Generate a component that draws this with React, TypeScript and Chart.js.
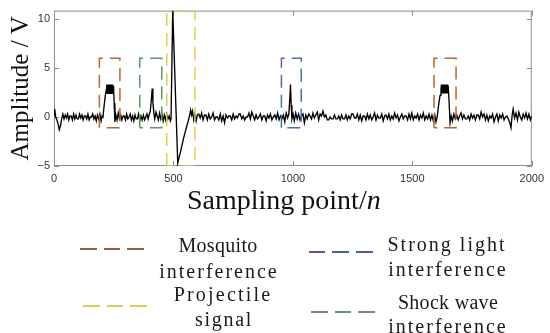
import React, { useEffect, useRef } from 'react';
import { Chart, registerables } from 'chart.js';

Chart.register(...registerables);

// ---------- data ----------
const xTicks = [0, 500, 1000, 1500, 2000];
const yTicks = [-5, 0, 5, 10];

// [sampling point, amplitude (V)]
const signalPoints: [number, number][] = [
  [0, 0.2], [3, 0.8], [7, 0.0], [12, -0.3], [17, -0.7], [22, -1.3], [27, -0.9], [32, -0.2], [37, 0.3], [42, -0.2],
  [47, 0.2], [52, -0.1], [57, 0.3], [62, -0.3], [67, 0.1], [72, 0.1], [77, -0.3], [82, 0.3], [87, -0.2], [92, 0.2],
  [97, -0.2], [102, -0.2], [107, 0.3], [112, -0.1], [117, 0.2], [122, -0.3], [127, 0.1], [132, 0.1], [137, -0.2], [142, 0.3],
  [147, -0.3], [152, 0.0], [157, 0.0], [162, 0.3], [167, -0.2], [172, 0.1], [177, -0.4], [182, 0.2], [187, -0.2], [192, 0.3],
  [197, -0.4], [201, 0.1],
  [205, 0.0], [210, 1.2], [215, 2.2], [219, 2.8], [221, 3.3], [223, 2.4], [225, 3.3], [227, 2.4], [229, 3.3], [231, 2.4],
  [233, 3.3], [235, 2.4], [237, 3.3], [239, 2.4], [241, 3.3], [243, 2.4], [245, 3.3], [247, 2.4], [249, 3.2], [252, 1.4],
  [255, -0.5], [259, 0.2], [264, -0.3], [269, 0.4], [274, -0.2], [279, 0.2], [284, -0.3], [289, 0.1], [294, 0.1], [299, -0.3],
  [304, 0.3], [309, -0.2], [314, 0.0], [319, 0.3], [324, -0.3], [329, 0.1], [334, -0.4], [339, 0.2], [344, -0.2], [349, -0.2],
  [354, 0.3], [359, -0.4], [364, 0.1], [369, -0.3], [374, 0.2], [379, -0.3], [384, 0.0], [389, 0.3], [394, -0.2], [399, 0.3],
  [403, 0.6], [407, 1.6], [411, 2.9], [414, 1.5], [418, 0.4], [422, -0.2], [427, 0.5], [432, 0.1], [437, -0.3], [442, 0.4],
  [447, -0.2], [452, 0.3], [457, -0.4], [462, 0.2], [467, -0.3], [472, 0.3], [477, -0.2], [482, 0.1], [487, -0.4], [490, -0.2],
  [497, 10.85], [518, -4.7], [530, -3.5], [542, -2.2], [554, -1.1], [562, -0.4], [568, 0.2], [572, 0.7], [576, 0.2], [580, 0.6],
  [585, -0.3], [590, 0.3], [595, -0.4], [600, 0.2], [606, 0.3], [612, -0.1], [618, 0.4], [624, -0.3], [630, 0.2], [636, 0.2],
  [642, -0.3], [648, 0.3], [654, -0.2], [660, 0.0], [666, 0.4], [672, -0.3], [678, 0.0], [684, 0.0], [690, -0.3], [696, 0.3],
  [702, -0.4], [708, 0.1], [714, -0.6], [720, 0.2], [726, -0.1], [732, 0.1], [738, 0.1], [744, -0.3], [750, 0.3], [756, -0.2],
  [762, 0.1], [768, -0.1], [774, 0.3], [780, 0.3], [786, -0.2], [792, 0.1], [798, -0.3], [804, 0.0], [810, 0.0], [816, 0.4],
  [822, -0.2], [828, 0.5], [834, 0.1], [840, -0.3], [846, 0.2], [852, -0.2], [858, 0.0], [864, 0.3], [870, -0.3], [876, 0.1],
  [882, 0.1], [888, -0.4], [894, 0.2], [900, -0.1], [906, 0.3], [912, -0.3], [918, 0.0], [924, 0.2], [930, -0.2], [936, 0.4],
  [942, -0.3], [948, 0.1], [954, -0.2], [960, 0.2], [966, -0.5], [972, 0.4], [978, -0.1], [983, 0.3],
  [987, 1.8], [990, 3.3], [993, 1.2], [996, -0.2], [1001, 0.3], [1006, -0.4], [1012, 0.4], [1018, -0.2], [1024, 0.3], [1030, -0.3],
  [1036, 0.1], [1042, 0.3], [1048, -0.6], [1054, 0.2], [1060, -0.2], [1066, 0.3], [1072, 0.1], [1078, -0.2], [1084, 0.4], [1090, -0.1],
  [1096, 0.2], [1102, 0.5], [1108, -0.3], [1114, 0.3], [1120, 0.1], [1126, 0.6], [1132, 0.0], [1138, 0.2], [1144, -0.3], [1150, -0.3],
  [1156, 0.0], [1162, -0.2], [1168, -0.2], [1174, 0.2], [1180, -0.2], [1186, -0.2], [1192, 0.1], [1198, -0.3], [1204, 0.2], [1210, -0.2],
  [1216, -0.2], [1222, 0.2], [1228, -0.3], [1234, 0.1], [1240, -0.2], [1246, 0.3], [1252, 0.3], [1258, -0.1], [1264, -0.1], [1270, 0.3],
  [1276, -0.3], [1282, 0.2], [1288, -0.4], [1294, 0.1], [1300, 0.1], [1306, -0.3], [1312, 0.3], [1318, -0.2], [1324, 0.2], [1330, -0.3],
  [1336, 0.0], [1342, 0.4], [1348, -0.3], [1354, 0.2], [1360, -0.1], [1366, -0.1], [1372, 0.3], [1378, -0.4], [1384, 0.1], [1390, 0.2],
  [1396, -0.2], [1402, 0.3], [1408, -0.3], [1414, 0.1], [1420, -0.2], [1426, 0.4], [1432, -0.1], [1438, 0.2], [1444, -0.4], [1450, 0.0],
  [1456, 0.3], [1462, -0.2], [1468, 0.1], [1474, 0.1], [1480, -0.3], [1486, 0.3], [1492, -0.2], [1498, 0.4], [1504, -0.3], [1510, 0.1],
  [1516, -0.1], [1522, 0.3], [1528, -0.3], [1534, 0.2], [1540, -0.1], [1546, 0.4], [1552, -0.3], [1558, 0.1], [1564, -0.2], [1570, 0.3],
  [1576, -0.3], [1582, 0.2], [1588, -0.4], [1594, 0.2], [1599, -0.5],
  [1604, 0.0], [1610, 1.2], [1616, 2.2], [1620, 2.8], [1622, 3.3], [1624, 2.4], [1626, 3.3], [1628, 2.4], [1630, 3.3], [1632, 2.4],
  [1634, 3.3], [1636, 2.4], [1638, 3.3], [1640, 2.4], [1642, 3.3], [1644, 2.4], [1646, 3.3], [1648, 2.4], [1650, 3.2], [1654, 1.5],
  [1658, -0.6], [1663, 0.1], [1668, -0.4], [1674, 0.3], [1680, -0.2], [1686, 0.2], [1692, -0.3], [1698, 0.1], [1704, 0.4], [1710, -0.2],
  [1716, 0.2], [1722, -0.2], [1728, -0.2], [1734, 0.1], [1740, -0.3], [1746, 0.3], [1752, -0.1], [1758, 0.2], [1764, -0.3], [1770, 0.2],
  [1776, 0.2], [1782, -0.2], [1788, 0.5], [1794, 0.0], [1800, 0.3], [1806, -0.3], [1812, 0.2], [1818, -0.4], [1824, 0.1], [1830, -0.1],
  [1836, 0.3], [1842, -0.5], [1848, 0.0], [1854, 0.3], [1860, -0.4], [1866, 0.2], [1872, -0.1], [1878, 0.3], [1884, -0.3], [1890, 0.0],
  [1896, 0.1], [1902, -0.2], [1908, -0.6], [1913, -1.1], [1918, 0.2], [1922, 0.8], [1928, -0.1], [1934, 0.4], [1940, -0.3], [1946, 0.5],
  [1952, 0.0], [1958, -0.3], [1964, 0.3], [1970, -0.1], [1976, 0.4], [1982, -0.2], [1988, 0.3], [1994, -0.3], [2000, 0.1],
];

// dashed marker boxes (data coordinates)
const boxLabels = ['Mosquito interference', 'Shock wave interference', 'Projectile signal', 'Strong light interference', 'Mosquito interference'];
const boxStart = [190, 359, 472, 952, 1591];
const boxEnd = [276, 451, 590, 1035, 1683];
const boxLow = [-1.1, -1.1, -5, -1.1, -1.1];
const boxHigh = [6.0, 6.0, 10.85, 6.0, 6.0];
const boxColors = ['#b8652e', '#5e9a5e', '#e2d040', '#4a6ab5', '#b8652e'];

// legend entries
const legendLines = [['Mosquito', 'interference'], ['Strong light', 'interference'], ['Projectile', 'signal'], ['Shock wave', 'interference']];
const legendColors = ['#96603c', '#4a5aa8', '#d8cf5a', '#6f9070'];

// ---------- layout (styles only) ----------
const legendLayout = [
  { lx: 80, ly: 249, cx: [218, 219], cy: [245, 271], ls: [0.3, 2.0] },
  { lx: 309, ly: 252, cx: [447, 448], cy: [244, 269], ls: [2.0, 2.0] },
  { lx: 83, ly: 306, cx: [223, 224], cy: [294, 319], ls: [2.2, 1.7] },
  { lx: 311, ly: 312, cx: [448, 448], cy: [302, 326], ls: [0.3, 2.0] },
];

const framePlugin = {
  id: 'matlabFrame',
  beforeDatasetsDraw(chart: any) {
    const { ctx, chartArea, scales } = chart;
    const { left, right, top, bottom } = chartArea;
    ctx.save();
    ctx.strokeStyle = '#8c8c8c';
    ctx.lineWidth = 1;
    ctx.strokeRect(left + 0.5, top + 0.5, right - left - 1, bottom - top - 1);
    ctx.beginPath();
    xTicks.forEach((v) => {
      const p = Math.round(scales.x.getPixelForValue(v)) + 0.5;
      ctx.moveTo(p, bottom);
      ctx.lineTo(p, bottom - 5);
      ctx.moveTo(p, top);
      ctx.lineTo(p, top + 5);
    });
    yTicks.forEach((v) => {
      const p = Math.round(scales.y.getPixelForValue(v)) + 0.5;
      ctx.moveTo(left, p);
      ctx.lineTo(left + 5, p);
      ctx.moveTo(right, p);
      ctx.lineTo(right - 5, p);
    });
    ctx.stroke();
    ctx.restore();
  },
};

export default function App() {
  const canvasRef = useRef<HTMLCanvasElement | null>(null);

  useEffect(() => {
    if (!canvasRef.current) return;
    const boxDatasets = boxLabels.map((label, i) => ({
      label,
      data: [
        { x: boxStart[i], y: boxLow[i] },
        { x: boxStart[i], y: boxHigh[i] },
        { x: boxEnd[i], y: boxHigh[i] },
        { x: boxEnd[i], y: boxLow[i] },
        { x: boxStart[i], y: boxLow[i] },
      ],
      borderColor: boxColors[i],
      borderWidth: 1.5,
      borderDash: [13, 7],
      pointRadius: 0,
      fill: false,
      tension: 0,
    }));
    const chart = new Chart(canvasRef.current, {
      type: 'line',
      data: {
        datasets: [
          ...boxDatasets,
          {
            label: 'signal',
            data: signalPoints.map(([x, y]) => ({ x, y })),
            borderColor: '#000000',
            borderWidth: 1.35,
            pointRadius: 0,
            fill: false,
            tension: 0,
          },
        ],
      },
      options: {
        animation: false,
        responsive: false,
        layout: { padding: { top: 7, right: 17, left: 0, bottom: 0 } },
        plugins: { legend: { display: false }, tooltip: { enabled: false } },
        scales: {
          x: {
            type: 'linear',
            min: 0,
            max: 2000,
            afterFit: (s: any) => { s.height = 167; },
            grid: { display: false, drawTicks: false },
            border: { display: false },
            ticks: {
              stepSize: 500,
              autoSkip: false,
              maxRotation: 0,
              padding: 6,
              color: '#333',
              font: { family: 'Liberation Sans', size: 11 },
              callback: (v: any) => String(v),
            },
          },
          y: {
            type: 'linear',
            min: -5,
            max: 10.85,
            afterFit: (s: any) => { s.width = 54; },
            grid: { display: false, drawTicks: false },
            border: { display: false },
            ticks: {
              stepSize: 5,
              includeBounds: false,
              padding: 4,
              color: '#333',
              font: { family: 'Liberation Sans', size: 11 },
              callback: (v: any) => (v < 0 ? '\u2212' + Math.abs(v) : String(v)),
            },
            title: {
              display: true,
              text: 'Amplitude / V',
              color: '#111',
              font: { family: 'Liberation Serif', size: 25 },
              padding: { top: 6, bottom: 0 },
            },
          },
        },
      },
      plugins: [framePlugin],
    } as any);
    return () => chart.destroy();
  }, []);

  return (
    <div style={{ position: 'fixed', left: 0, top: 0, width: 550, height: 333, background: '#fff', overflow: 'hidden' }}>
      <canvas ref={canvasRef} width={550} height={333} style={{ position: 'absolute', left: 0, top: 0 }} />
      <div
        style={{
          position: 'absolute',
          left: 187,
          top: 186,
          fontFamily: 'Liberation Serif',
          fontSize: 28,
          lineHeight: '28px',
          color: '#111',
          whiteSpace: 'nowrap',
        }}
      >
        Sampling point/<i>n</i>
      </div>
      {legendLines.map((lines, i) => {
        const L = legendLayout[i];
        const c = legendColors[i];
        return (
          <React.Fragment key={i}>
            <div
              style={{
                position: 'absolute',
                left: L.lx,
                top: L.ly - 1,
                width: 64,
                height: 2,
                background: `repeating-linear-gradient(to right, ${c} 0px, ${c} 16.5px, transparent 16.5px, transparent 23.5px)`,
              }}
            />
            {lines.map((t, j) => (
              <div
                key={j}
                style={{
                  position: 'absolute',
                  left: L.cx[j],
                  top: L.cy[j],
                  transform: 'translate(-50%, -50%)',
                  fontFamily: 'Liberation Serif',
                  fontSize: 20,
                  lineHeight: '22px',
                  letterSpacing: L.ls[j],
                  color: '#1a1a1a',
                  whiteSpace: 'nowrap',
                }}
              >
                {t}
              </div>
            ))}
          </React.Fragment>
        );
      })}
    </div>
  );
}
